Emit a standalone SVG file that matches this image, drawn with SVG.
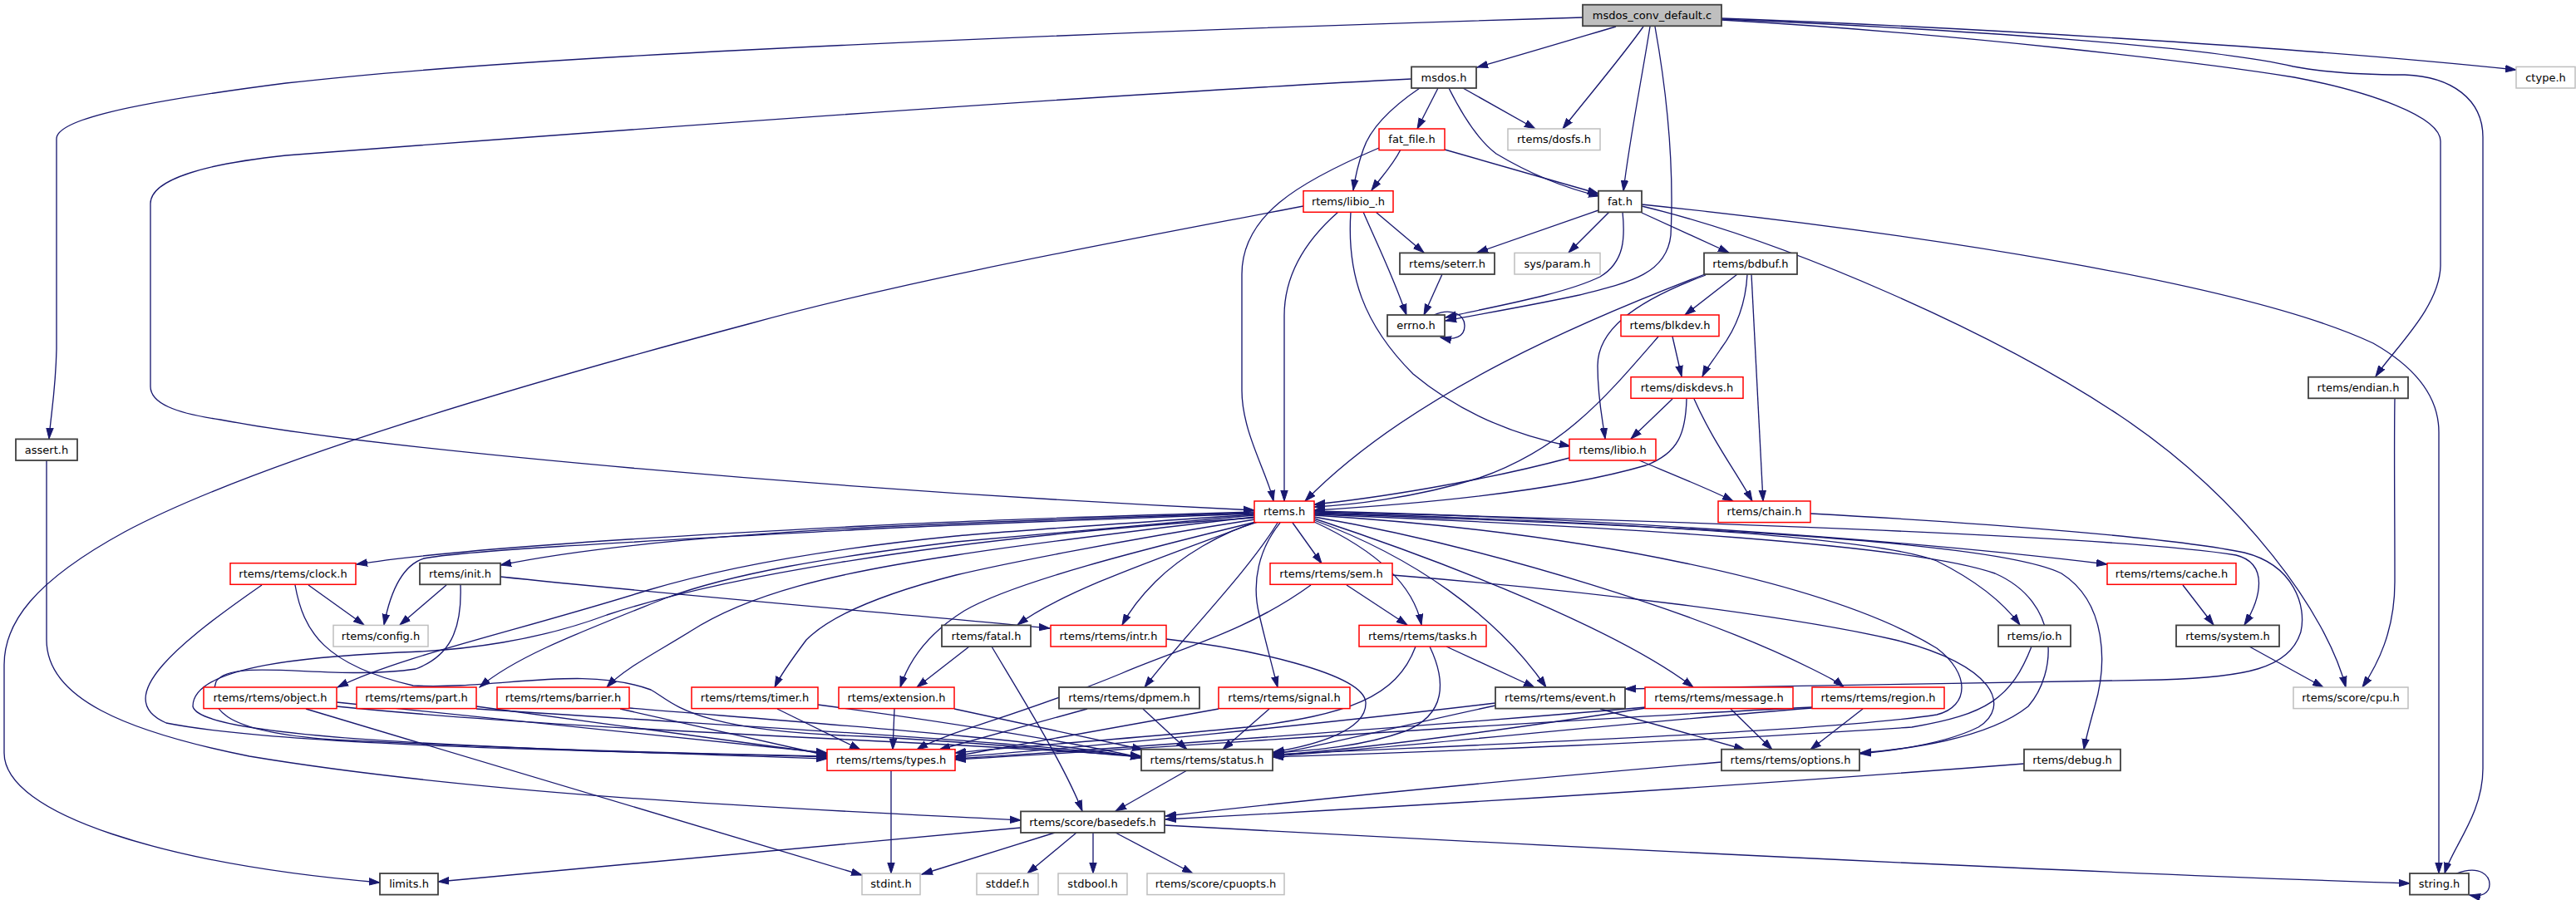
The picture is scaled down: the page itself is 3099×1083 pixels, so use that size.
<svg xmlns="http://www.w3.org/2000/svg" width="3099" height="1083" viewBox="0 0 3099 1083">
<defs>
<marker id="a" markerWidth="14" markerHeight="10" refX="13" refY="5" orient="auto" markerUnits="userSpaceOnUse">
<path d="M0,0.8 L13,5 L0,9.2 z" fill="#191970" stroke="#191970" stroke-width="1"/>
</marker>
</defs>
<style>
.e{fill:none;stroke:#191970;stroke-width:1.33;marker-end:url(#a)}
rect{fill:#ffffff;stroke-width:1.5}
.k rect{stroke:#404040;stroke-width:1.8}
.r rect{stroke:#ff0000}
.g rect{stroke:#bfbfbf}
.m rect{fill:#bfbfbf;stroke:#404040;stroke-width:1.8}
text{font-family:"DejaVu Sans","Liberation Sans",sans-serif;font-size:13px;text-anchor:middle;fill:#000000}
</style>
<rect x="0" y="0" width="3099" height="1083" fill="#ffffff" stroke="none"/>
<g id="edges">
<path class="e" d="M1944,32 C1900,45 1830,66 1777,81"/>
<path class="e" d="M1977,32 C1950,70 1905,123 1880,155"/>
<path class="e" d="M1985,32 C1975,95 1960,170 1953,230"/>
<path class="e" d="M1991,32 C2005,110 2014,200 2010,283 C2005,330 1960,340 1900,355 C1840,368 1780,378 1739,386"/>
<path class="e" d="M1904,21 C1600,30 1200,45 900,60 C600,75 450,88 344,100 C150,125 68,145 68,167 L68,420 C67,470 61,500 59,528"/>
<path class="e" d="M2071,22 C2400,34 2800,60 3027,84"/>
<path class="e" d="M2071,23 C2350,35 2650,55 2759,80 C2800,88 2850,90 2893,90 C2950,92 2987,120 2987,165 L2987,925 C2987,980 2950,1020 2941,1051"/>
<path class="e" d="M2071,24 C2350,40 2650,75 2760,93 C2850,110 2936,140 2936,170 L2936,320 C2935,370 2880,420 2858,453"/>
<path class="e" d="M1730,106 L1705,155"/>
<path class="e" d="M1760,106 L1847,155"/>
<path class="e" d="M1743,106 C1760,140 1780,170 1800,185 C1850,215 1890,228 1924,236"/>
<path class="e" d="M1708,106 C1680,125 1650,150 1640,180 C1633,200 1630,215 1628,229"/>
<path class="e" d="M1698,95 C1300,115 700,160 344,187 C250,197 181,215 181,245 L181,465 C181,485 210,497 265,505 C450,540 1000,590 1509,614"/>
<path class="e" d="M1738,180 L1923,233"/>
<path class="e" d="M1685,180 C1675,200 1660,215 1650,229"/>
<path class="e" d="M1659,178 C1560,220 1494,260 1494,330 L1494,470 C1494,520 1525,570 1532,603"/>
<path class="e" d="M1610,255 C1570,290 1545,330 1545,380 L1545,603"/>
<path class="e" d="M1655,255 L1713,304"/>
<path class="e" d="M1640,255 C1655,290 1675,330 1692,379"/>
<path class="e" d="M1625,255 C1620,330 1640,390 1700,450 C1760,500 1830,525 1889,537"/>
<path class="e" d="M1568,248 C1350,290 1100,335 900,390 C600,470 300,560 150,640 C40,700 5,750 5,800 L5,906 C5,980 200,1040 457,1062"/>
<path class="e" d="M1923,253 L1777,304"/>
<path class="e" d="M1936,255 L1887,304"/>
<path class="e" d="M1975,256 L2080,304"/>
<path class="e" d="M1952,255 C1955,285 1955,315 1925,333 C1880,355 1790,370 1739,382"/>
<path class="e" d="M1975,248 C2150,290 2400,400 2550,500 C2700,600 2800,740 2822,827"/>
<path class="e" d="M1975,246 C2300,280 2700,340 2855,413 C2920,450 2934,490 2934,520 L2934,1051"/>
<path class="e" d="M1735,330 L1713,379"/>
<path class="e" d="M1725,379 C1745,370 1762,378 1762,392 C1762,405 1750,410 1733,406"/>
<path class="e" d="M2090,330 L2027,379"/>
<path class="e" d="M2102,330 C2100,370 2085,400 2070,420 C2060,435 2052,445 2048,453"/>
<path class="e" d="M2051,330 C1920,380 1700,470 1570,603"/>
<path class="e" d="M2052,331 C1960,365 1922,400 1922,440 C1922,480 1928,505 1931,528"/>
<path class="e" d="M2107,330 L2121,603"/>
<path class="e" d="M2012,405 L2023,453"/>
<path class="e" d="M1995,405 C1930,480 1880,540 1780,575 C1700,600 1620,608 1581,610"/>
<path class="e" d="M2012,480 L1962,528"/>
<path class="e" d="M2038,480 C2060,530 2090,570 2108,603"/>
<path class="e" d="M2029,480 C2028,520 2020,545 1980,560 C1860,595 1680,608 1581,614"/>
<path class="e" d="M1888,551 C1780,580 1650,600 1581,607"/>
<path class="e" d="M1972,554 C2010,570 2060,590 2085,603"/>
<path class="e" d="M2881,479 C2880,540 2881,600 2881,700 C2881,760 2860,800 2842,827"/>
<path class="e" d="M2178,618 C2400,630 2620,648 2700,665 C2760,680 2775,730 2768,760 C2755,805 2700,815 2600,818 C2400,822 2100,826 1955,829"/>
<path class="e" d="M1509,616 C1300,622 1150,627 1040,633 C800,645 550,660 429,679"/>
<path class="e" d="M1509,617 C1300,624 1150,629 1040,635 C850,645 700,660 602,680"/>
<path class="e" d="M1509,618 C1300,626 1150,631 1040,637 C800,650 560,662 510,672 C485,680 470,710 462,752"/>
<path class="e" d="M1509,619 C1350,630 1200,640 1150,645 C1000,660 880,680 780,710 C620,760 480,790 406,827"/>
<path class="e" d="M1509,620 C1350,635 1200,648 1150,652 C1000,670 880,690 800,720 C700,760 620,790 577,827"/>
<path class="e" d="M1509,622 C1350,640 1200,660 1150,668 C1000,690 900,715 830,760 C790,785 750,805 730,827"/>
<path class="e" d="M1510,625 C1350,650 1200,680 1150,692 C1060,715 1000,740 970,770 C955,790 940,810 932,827"/>
<path class="e" d="M1511,628 C1380,660 1220,700 1160,735 C1120,760 1095,790 1083,827"/>
<path class="e" d="M1509,623 C1100,650 850,700 730,740 C650,770 560,783 480,785 C380,790 232,800 232,850 C240,890 600,900 995,913"/>
<path class="e" d="M1512,628 C1400,670 1280,710 1224,752"/>
<path class="e" d="M1513,628 C1470,640 1420,670 1390,700 C1370,720 1358,737 1350,752"/>
<path class="e" d="M1537,629 C1500,690 1420,770 1377,827"/>
<path class="e" d="M1540,629 C1515,660 1505,700 1515,740 C1522,770 1530,800 1537,827"/>
<path class="e" d="M1555,629 L1590,678"/>
<path class="e" d="M1581,628 C1650,660 1700,700 1710,752"/>
<path class="e" d="M1581,626 C1700,670 1800,740 1860,827"/>
<path class="e" d="M1581,624 C1750,680 1950,760 2037,827"/>
<path class="e" d="M1581,622 C1800,660 2050,740 2180,805 C2200,815 2210,820 2218,827"/>
<path class="e" d="M1581,615 C1900,622 2300,650 2535,679"/>
<path class="e" d="M1581,616 C2000,626 2550,645 2690,668 C2730,678 2720,720 2700,752"/>
<path class="e" d="M1581,617 C1950,628 2250,645 2330,675 C2380,700 2410,725 2430,752"/>
<path class="e" d="M1581,618 C2000,632 2400,650 2480,690 C2535,725 2535,800 2520,850 C2513,875 2509,890 2507,902"/>
<path class="e" d="M1581,619 C1950,634 2300,655 2400,690 C2480,725 2475,810 2440,850 C2390,890 2290,902 2238,906"/>
<path class="e" d="M1581,620 C1900,640 2200,700 2330,780 C2370,810 2370,850 2330,860 C2200,880 1800,895 1532,908"/>
<path class="e" d="M371,704 L438,752"/>
<path class="e" d="M315,704 C220,770 130,840 200,870 C350,900 800,905 995,911"/>
<path class="e" d="M355,704 C365,760 390,800 497,825 C600,830 700,800 783,830 C810,845 830,880 1040,886 C1200,895 1300,905 1373,911"/>
<path class="e" d="M537,704 L481,752"/>
<path class="e" d="M602,694 C800,715 1100,740 1263,756"/>
<path class="e" d="M554,704 C556,760 540,790 500,805 C400,820 280,790 260,820 C250,850 260,880 400,890 C700,905 900,908 995,910"/>
<path class="e" d="M1166,778 L1103,827"/>
<path class="e" d="M1193,778 C1230,840 1280,920 1302,976"/>
<path class="e" d="M1403,769 C1500,780 1640,810 1643,845 C1645,880 1580,897 1532,905"/>
<path class="e" d="M1620,704 L1693,752"/>
<path class="e" d="M1577,704 C1500,760 1420,780 1350,810 C1230,860 1140,880 1103,902"/>
<path class="e" d="M1675,692 C1900,710 2150,740 2280,770 C2400,800 2420,850 2380,875 C2340,895 2280,903 2238,907"/>
<path class="e" d="M1740,778 L1846,827"/>
<path class="e" d="M1703,778 C1680,840 1620,860 1500,875 C1350,890 1200,900 1149,906"/>
<path class="e" d="M1720,778 C1740,820 1740,860 1690,880 C1640,898 1580,903 1531,906"/>
<path class="e" d="M2626,704 L2663,752"/>
<path class="e" d="M2706,778 L2795,827"/>
<path class="e" d="M2444,778 C2420,840 2390,860 2300,875 C2000,895 1700,905 1531,911"/>
<path class="e" d="M405,845 L995,906"/>
<path class="e" d="M405,850 C700,880 1100,890 1373,910"/>
<path class="e" d="M368,853 L1037,1053"/>
<path class="e" d="M573,850 L995,907"/>
<path class="e" d="M573,853 C900,875 1200,890 1373,911"/>
<path class="e" d="M746,853 L995,909"/>
<path class="e" d="M757,852 C1000,872 1250,890 1373,912"/>
<path class="e" d="M935,853 L1035,902"/>
<path class="e" d="M984,848 C1150,870 1300,895 1373,912"/>
<path class="e" d="M1076,853 L1074,902"/>
<path class="e" d="M1148,853 L1375,902"/>
<path class="e" d="M1308,853 L1130,902"/>
<path class="e" d="M1375,853 L1428,902"/>
<path class="e" d="M1466,853 L1149,910"/>
<path class="e" d="M1527,853 L1471,902"/>
<path class="e" d="M1799,846 C1600,870 1300,900 1149,911"/>
<path class="e" d="M1799,849 C1700,870 1600,895 1531,908"/>
<path class="e" d="M1925,853 L2099,902"/>
<path class="e" d="M1980,851 C1700,875 1350,900 1149,913"/>
<path class="e" d="M1980,852 C1800,880 1650,900 1531,909"/>
<path class="e" d="M2082,853 L2132,902"/>
<path class="e" d="M2180,851 C1800,870 1400,900 1149,914"/>
<path class="e" d="M2180,852 C1900,875 1700,898 1531,910"/>
<path class="e" d="M2241,853 L2178,902"/>
<path class="e" d="M1072,927 L1072,1051"/>
<path class="e" d="M1428,927 L1342,976"/>
<path class="e" d="M2071,917 C1800,940 1550,965 1402,982"/>
<path class="e" d="M2435,919 C2100,945 1700,970 1402,986"/>
<path class="e" d="M56,554 L56,770 C56,840 150,880 300,910 C600,960 1000,975 1228,987"/>
<path class="e" d="M1228,996 L527,1061"/>
<path class="e" d="M1269,1002 L1109,1052"/>
<path class="e" d="M1295,1002 L1236,1051"/>
<path class="e" d="M1315,1002 L1315,1051"/>
<path class="e" d="M1342,1002 L1435,1051"/>
<path class="e" d="M1401,993 C1900,1020 2500,1050 2899,1063"/>
<path class="e" d="M2955,1051 C2985,1040 2995,1055 2995,1064 C2995,1075 2985,1080 2971,1077"/>
</g>
<g id="n_main" class="m"><rect x="1904" y="5.7" width="167" height="25.6"/><text x="1987.5" y="23.1">msdos_conv_default.c</text></g>
<g id="n_msdos" class="k"><rect x="1698" y="80.4" width="78" height="25.6"/><text x="1737" y="97.8">msdos.h</text></g>
<g id="n_ctype" class="g"><rect x="3027" y="80.4" width="71" height="25.6"/><text x="3062.5" y="97.8">ctype.h</text></g>
<g id="n_fat_file" class="r"><rect x="1659" y="155" width="79" height="25.6"/><text x="1698.5" y="172.4">fat_file.h</text></g>
<g id="n_dosfs" class="g"><rect x="1814" y="155" width="111" height="25.6"/><text x="1869.5" y="172.4">rtems/dosfs.h</text></g>
<g id="n_libio_" class="r"><rect x="1568" y="229.7" width="108" height="25.6"/><text x="1622" y="247.1">rtems/libio_.h</text></g>
<g id="n_fat" class="k"><rect x="1923" y="229.7" width="52" height="25.6"/><text x="1949" y="247.1">fat.h</text></g>
<g id="n_seterr" class="k"><rect x="1684" y="304.4" width="114" height="25.6"/><text x="1741" y="321.8">rtems/seterr.h</text></g>
<g id="n_sysparam" class="g"><rect x="1822" y="304.4" width="103" height="25.6"/><text x="1873.5" y="321.8">sys/param.h</text></g>
<g id="n_bdbuf" class="k"><rect x="2050" y="304.4" width="112" height="25.6"/><text x="2106" y="321.8">rtems/bdbuf.h</text></g>
<g id="n_errno" class="k"><rect x="1669" y="379" width="69" height="25.6"/><text x="1703.5" y="396.4">errno.h</text></g>
<g id="n_blkdev" class="r"><rect x="1950" y="379" width="118" height="25.6"/><text x="2009" y="396.4">rtems/blkdev.h</text></g>
<g id="n_diskdevs" class="r"><rect x="1962" y="453.7" width="135" height="25.6"/><text x="2029.5" y="471.1">rtems/diskdevs.h</text></g>
<g id="n_endian" class="k"><rect x="2777" y="453.7" width="120" height="25.6"/><text x="2837" y="471.1">rtems/endian.h</text></g>
<g id="n_assert" class="k"><rect x="19" y="528.4" width="74" height="25.6"/><text x="56" y="545.8">assert.h</text></g>
<g id="n_libio" class="r"><rect x="1888" y="528.4" width="104" height="25.6"/><text x="1940" y="545.8">rtems/libio.h</text></g>
<g id="n_rtems" class="r"><rect x="1509" y="603" width="72" height="25.6"/><text x="1545" y="620.4">rtems.h</text></g>
<g id="n_chain" class="r"><rect x="2067" y="603" width="111" height="25.6"/><text x="2122.5" y="620.4">rtems/chain.h</text></g>
<g id="n_clock" class="r"><rect x="277" y="677.7" width="151" height="25.6"/><text x="352.5" y="695.1">rtems/rtems/clock.h</text></g>
<g id="n_init" class="k"><rect x="505" y="677.7" width="97" height="25.6"/><text x="553.5" y="695.1">rtems/init.h</text></g>
<g id="n_sem" class="r"><rect x="1528" y="677.7" width="147" height="25.6"/><text x="1601.5" y="695.1">rtems/rtems/sem.h</text></g>
<g id="n_cache" class="r"><rect x="2535" y="677.7" width="155" height="25.6"/><text x="2612.5" y="695.1">rtems/rtems/cache.h</text></g>
<g id="n_config" class="g"><rect x="401" y="752.4" width="114" height="25.6"/><text x="458" y="769.8">rtems/config.h</text></g>
<g id="n_fatal" class="k"><rect x="1133" y="752.4" width="107" height="25.6"/><text x="1186.5" y="769.8">rtems/fatal.h</text></g>
<g id="n_intr" class="r"><rect x="1264" y="752.4" width="139" height="25.6"/><text x="1333.5" y="769.8">rtems/rtems/intr.h</text></g>
<g id="n_tasks" class="r"><rect x="1635" y="752.4" width="153" height="25.6"/><text x="1711.5" y="769.8">rtems/rtems/tasks.h</text></g>
<g id="n_io" class="k"><rect x="2404" y="752.4" width="87" height="25.6"/><text x="2447.5" y="769.8">rtems/io.h</text></g>
<g id="n_system" class="k"><rect x="2618" y="752.4" width="124" height="25.6"/><text x="2680" y="769.8">rtems/system.h</text></g>
<g id="n_object" class="r"><rect x="245" y="827" width="160" height="25.6"/><text x="325" y="844.4">rtems/rtems/object.h</text></g>
<g id="n_part" class="r"><rect x="429" y="827" width="144" height="25.6"/><text x="501" y="844.4">rtems/rtems/part.h</text></g>
<g id="n_barrier" class="r"><rect x="598" y="827" width="159" height="25.6"/><text x="677.5" y="844.4">rtems/rtems/barrier.h</text></g>
<g id="n_timer" class="r"><rect x="832" y="827" width="152" height="25.6"/><text x="908" y="844.4">rtems/rtems/timer.h</text></g>
<g id="n_extension" class="r"><rect x="1009" y="827" width="139" height="25.6"/><text x="1078.5" y="844.4">rtems/extension.h</text></g>
<g id="n_dpmem" class="k"><rect x="1274" y="827" width="169" height="25.6"/><text x="1358.5" y="844.4">rtems/rtems/dpmem.h</text></g>
<g id="n_signal" class="r"><rect x="1466" y="827" width="158" height="25.6"/><text x="1545" y="844.4">rtems/rtems/signal.h</text></g>
<g id="n_event" class="k"><rect x="1799" y="827" width="156" height="25.6"/><text x="1877" y="844.4">rtems/rtems/event.h</text></g>
<g id="n_message" class="r"><rect x="1979" y="827" width="178" height="25.6"/><text x="2068" y="844.4">rtems/rtems/message.h</text></g>
<g id="n_region" class="r"><rect x="2180" y="827" width="159" height="25.6"/><text x="2259.5" y="844.4">rtems/rtems/region.h</text></g>
<g id="n_cpu" class="g"><rect x="2759" y="827" width="138" height="25.6"/><text x="2828" y="844.4">rtems/score/cpu.h</text></g>
<g id="n_types" class="r"><rect x="995" y="901.7" width="154" height="25.6"/><text x="1072" y="919.1">rtems/rtems/types.h</text></g>
<g id="n_status" class="k"><rect x="1373" y="901.7" width="158" height="25.6"/><text x="1452" y="919.1">rtems/rtems/status.h</text></g>
<g id="n_options" class="k"><rect x="2071" y="901.7" width="166" height="25.6"/><text x="2154" y="919.1">rtems/rtems/options.h</text></g>
<g id="n_debug" class="k"><rect x="2435" y="901.7" width="116" height="25.6"/><text x="2493" y="919.1">rtems/debug.h</text></g>
<g id="n_basedefs" class="k"><rect x="1228" y="976.4" width="173" height="25.6"/><text x="1314.5" y="993.8">rtems/score/basedefs.h</text></g>
<g id="n_limits" class="k"><rect x="457" y="1051" width="70" height="25.6"/><text x="492" y="1068.4">limits.h</text></g>
<g id="n_stdint" class="g"><rect x="1037" y="1051" width="70" height="25.6"/><text x="1072" y="1068.4">stdint.h</text></g>
<g id="n_stddef" class="g"><rect x="1175" y="1051" width="74" height="25.6"/><text x="1212" y="1068.4">stddef.h</text></g>
<g id="n_stdbool" class="g"><rect x="1273" y="1051" width="83" height="25.6"/><text x="1314.5" y="1068.4">stdbool.h</text></g>
<g id="n_cpuopts" class="g"><rect x="1380" y="1051" width="165" height="25.6"/><text x="1462.5" y="1068.4">rtems/score/cpuopts.h</text></g>
<g id="n_string" class="k"><rect x="2899" y="1051" width="71" height="25.6"/><text x="2934.5" y="1068.4">string.h</text></g>
</svg>
